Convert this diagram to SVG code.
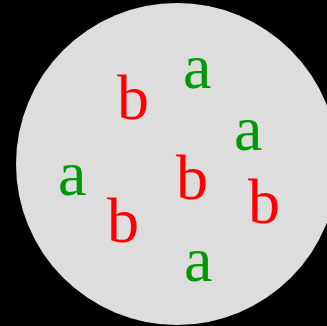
<svg xmlns="http://www.w3.org/2000/svg" width="327" height="326" viewBox="0 0 327 326">
<style>
.t{font-family:"Liberation Serif","Times New Roman",serif;font-size:64px}
.a{fill:#009900}
.b{fill:#ff0000}
</style>
<rect width="327" height="326" fill="#000000"/>
<circle id="set" cx="177" cy="164" r="161" fill="#dddddd"/>
<g id="letters" class="t">
<text class="b" x="117" y="119">b</text>
<text class="a" x="183" y="88">a</text>
<text class="a" x="234" y="150">a</text>
<text class="a" x="58" y="195">a</text>
<text class="b" x="176" y="199">b</text>
<text class="b" x="248" y="223">b</text>
<text class="b" x="107" y="242">b</text>
<text class="a" x="184" y="281">a</text>
</g>
</svg>
